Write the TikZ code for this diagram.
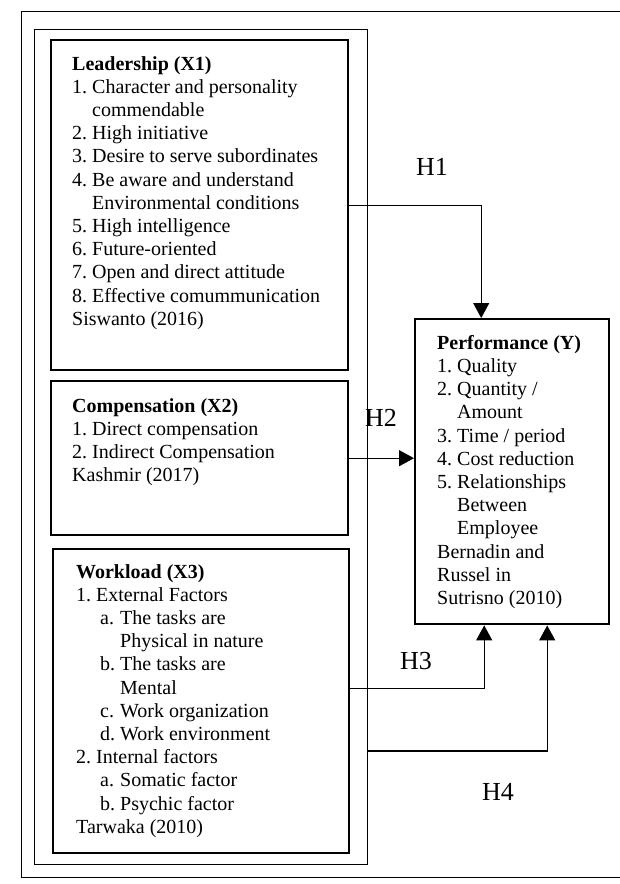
\documentclass[tikz,border=0pt]{standalone}
\usepackage{fontspec}
\setmainfont{Liberation Serif}
\usetikzlibrary{positioning,arrows.meta}
\newcommand{\nitem}[2]{\makebox[20pt][l]{#1}#2}

\begin{document}
\begin{tikzpicture}[
  x=1pt, y=-1pt,
  frame/.style={draw, line width=1.2pt, anchor=north west, inner sep=0pt},
  block/.style={draw, line width=2.4pt, anchor=north west, inner sep=0pt},
  txt/.style={anchor=north west, inner sep=0pt, align=left, font=\fontsize{20}{23.2}\selectfont},
  hlabel/.style={font=\fontsize{26}{30}\selectfont},
  arrow/.style={-{Triangle[length=15pt, width=16pt]}, line width=1.2pt}
]
\useasboundingbox (0,0) rectangle (619,884);

% frames (the outer one runs off the right edge)
\node[frame, minimum width=610pt, minimum height=866pt] (outer) at (21,11) {};
\node[frame, minimum width=333pt, minimum height=835pt] (frame) at (34,29) {};

% variable boxes
\node[block, minimum width=297pt, minimum height=330pt] (lead) at (50,39) {};
\node[block, minimum width=297pt, minimum height=154pt] (comp) at (50,380) {};
\node[block, minimum width=296pt, minimum height=304pt] (work) at (52,548) {};
\node[block, minimum width=194pt, minimum height=305pt] (perf) at (414,318) {};

\node[txt, below right=17pt and 22pt of lead.north west] (leadtext) {%
\textbf{Leadership (X1)}\\
\nitem{1.}{Character and personality}\\
\hspace*{20pt}commendable\\
\nitem{2.}{High initiative}\\
\nitem{3.}{Desire to serve subordinates}\\
\nitem{4.}{Be aware and understand}\\
\hspace*{20pt}Environmental conditions\\
\nitem{5.}{High intelligence}\\
\nitem{6.}{Future-oriented}\\
\nitem{7.}{Open and direct attitude}\\
\nitem{8.}{Effective comummunication}\\
Siswanto (2016)};

\node[txt, below right=18pt and 22pt of comp.north west] (comptext) {%
\textbf{Compensation (X2)}\\
\nitem{1.}{Direct compensation}\\
\nitem{2.}{Indirect Compensation}\\
Kashmir (2017)};

\node[txt, below right=16pt and 24pt of work.north west] (worktext) {%
\textbf{Workload (X3)}\\
\nitem{1.}{External Factors}\\
\hspace*{24pt}\nitem{a.}{The tasks are}\\
\hspace*{44pt}Physical in nature\\
\hspace*{24pt}\nitem{b.}{The tasks are}\\
\hspace*{44pt}Mental\\
\hspace*{24pt}\nitem{c.}{Work organization}\\
\hspace*{24pt}\nitem{d.}{Work environment}\\
\nitem{2.}{Internal factors}\\
\hspace*{24pt}\nitem{a.}{Somatic factor}\\
\hspace*{24pt}\nitem{b.}{Psychic factor}\\
Tarwaka (2010)};

\node[txt, below right=17pt and 23pt of perf.north west] (perftext) {%
\textbf{Performance (Y)}\\
\nitem{1.}{Quality}\\
\nitem{2.}{Quantity /}\\
\hspace*{20pt}Amount\\
\nitem{3.}{Time / period}\\
\nitem{4.}{Cost reduction}\\
\nitem{5.}{Relationships}\\
\hspace*{20pt}Between\\
\hspace*{20pt}Employee\\
Bernadin and\\
Russel in\\
Sutrisno (2010)};

% hypotheses
\coordinate (h4start) at (367,751);
\draw[arrow] (lead.east) -| ([xshift=-31pt]perf.north);
\draw[arrow] (comp.east) -- (comp.east -| perf.west);
\draw[arrow] ([yshift=13pt]work.east) -| ([xshift=-28pt]perf.south);
\draw[arrow] (h4start) -| ([xshift=35pt]perf.south);

\node[hlabel] (h1) at (432,167) {H1};
\node[hlabel] (h2) at (381,418) {H2};
\node[hlabel] (h3) at (416,661) {H3};
\node[hlabel] (h4) at (498,792) {H4};
\end{tikzpicture}
\end{document}
